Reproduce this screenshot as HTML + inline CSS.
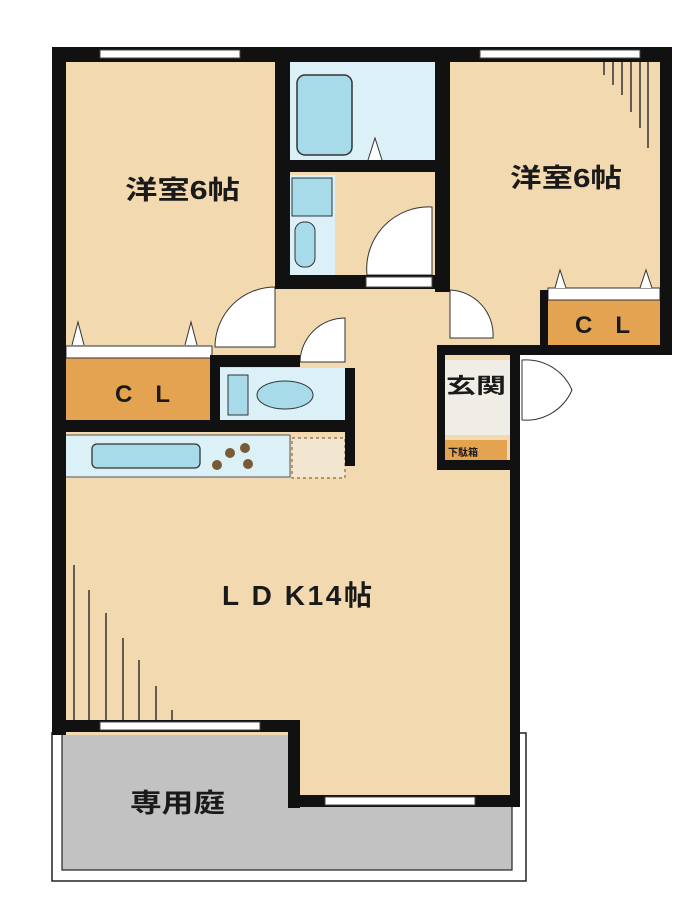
<!DOCTYPE html>
<html><head><meta charset="utf-8"><style>
html,body{margin:0;padding:0;background:#fff;}
svg{display:block}
text{font-family:"Liberation Sans","Noto Sans CJK JP",sans-serif;font-weight:bold;fill:#1a1a1a}
</style></head><body>
<svg width="700" height="913" viewBox="0 0 700 913" xmlns="http://www.w3.org/2000/svg">
<rect width="700" height="913" fill="#fff"/>
<!-- garden -->
<rect x="52" y="733" width="474" height="148" fill="none" stroke="#222" stroke-width="1.5"/>
<rect x="62" y="733" width="450" height="137" fill="#c2c2c2" stroke="#222" stroke-width="1.2"/>
<!-- floors -->
<rect x="60" y="55" width="460" height="680" fill="#f2d9b0"/>
<rect x="290" y="720" width="225" height="80" fill="#f2d9b0"/>
<rect x="440" y="55" width="225" height="295" fill="#f2d9b0"/>
<!-- bath -->
<rect x="290" y="62" width="145" height="100" fill="#dcf0f8"/>
<rect x="297" y="75" width="55" height="80" rx="8" fill="#a7dbe9" stroke="#333" stroke-width="1.5"/>
<path d="M368 160 L375 138 L382 160" fill="#fff" stroke="#333" stroke-width="1"/>
<!-- washroom -->
<rect x="290" y="175" width="45" height="100" fill="#dcf0f8"/>
<rect x="292" y="178" width="40" height="38" fill="#a7dbe9" stroke="#333" stroke-width="1"/>
<rect x="295" y="222" width="20" height="45" rx="9" fill="#a7dbe9" stroke="#333" stroke-width="1"/>
<path d="M432 207 A62 62 0 0 0 367 275 L432 275 Z" fill="#fff" stroke="#333" stroke-width="1"/>
<!-- closets -->
<rect x="66" y="358" width="146" height="62" fill="#e3a350"/>
<rect x="66" y="346" width="146" height="12" fill="#fff" stroke="#333" stroke-width="1"/>
<path d="M72 345 L78 322 L84 345 M185 345 L191 322 L197 345" fill="#fff" stroke="#333" stroke-width="1"/>
<rect x="548" y="300" width="112" height="46" fill="#e3a350"/>
<rect x="548" y="288" width="112" height="12" fill="#fff" stroke="#333" stroke-width="1"/>
<path d="M555 288 L560 270 L566 288 M640 288 L646 270 L652 288" fill="#fff" stroke="#333" stroke-width="1"/>
<!-- toilet -->
<rect x="220" y="368" width="125" height="52" fill="#dcf0f8"/>
<rect x="228" y="375" width="20" height="40" fill="#a7dbe9" stroke="#333" stroke-width="1"/>
<ellipse cx="285" cy="395" rx="28" ry="14" fill="#a7dbe9" stroke="#333" stroke-width="1"/>
<!-- kitchen -->
<rect x="64" y="435" width="226" height="42" fill="#dcf0f8" stroke="#555" stroke-width="1"/>
<rect x="92" y="444" width="108" height="24" rx="5" fill="#a7dbe9" stroke="#333" stroke-width="1.3"/>
<circle cx="230" cy="453" r="5" fill="#7a5a35"/><circle cx="245" cy="448" r="5" fill="#7a5a35"/>
<circle cx="217" cy="465" r="5" fill="#7a5a35"/><circle cx="248" cy="464" r="5" fill="#7a5a35"/>
<rect x="292" y="438" width="53" height="40" fill="#f3e6d0" stroke="#8a6a40" stroke-width="1.2" stroke-dasharray="3 3"/>
<!-- genkan -->
<rect x="445" y="360" width="65" height="75" fill="#f0ece6"/>
<rect x="445" y="440" width="62" height="20" fill="#e3a350"/>
<!-- door arcs -->
<path d="M275 287 A60 60 0 0 0 215 347 L275 347 Z" fill="#fff" stroke="#333" stroke-width="1"/>
<path d="M345 318 A45 45 0 0 0 300 362 L345 362 Z" fill="#fff" stroke="#333" stroke-width="1"/>
<path d="M450 290 A45 45 0 0 1 493 338 L450 338 Z" fill="#fff" stroke="#333" stroke-width="1"/>
<path d="M522 360 A50 50 0 0 1 572 390 A50 50 0 0 1 522 420 Z" fill="#fff" stroke="#333" stroke-width="1"/>
<!-- walls -->
<g fill="#111">
<rect x="52" y="47" width="620" height="15"/>
<rect x="52" y="47" width="14" height="688"/>
<rect x="660" y="47" width="12" height="308"/>
<rect x="275" y="47" width="15" height="240"/>
<rect x="435" y="47" width="15" height="245"/>
<rect x="437" y="345" width="235" height="10"/>
<rect x="540" y="290" width="8" height="60"/>
<rect x="290" y="160" width="145" height="12"/>
<rect x="275" y="275" width="175" height="14"/>
<rect x="52" y="420" width="300" height="12"/>
<rect x="210" y="355" width="10" height="77"/>
<rect x="210" y="355" width="90" height="12"/>
<rect x="345" y="368" width="10" height="98"/>
<rect x="437" y="355" width="8" height="115"/>
<rect x="437" y="460" width="83" height="10"/>
<rect x="510" y="355" width="10" height="450"/>
<rect x="52" y="720" width="248" height="12"/>
<rect x="288" y="720" width="12" height="88"/>
<rect x="288" y="795" width="232" height="12"/>
</g>
<rect x="366" y="277" width="66" height="10" fill="#fff" stroke="#444" stroke-width="1"/>
<!-- windows -->
<g fill="#fff" stroke="#444" stroke-width="1">
<rect x="100" y="50" width="140" height="8"/>
<rect x="480" y="50" width="160" height="8"/>
<rect x="100" y="722" width="160" height="8"/>
<rect x="325" y="797" width="150" height="8"/>
</g>
<g stroke="#333" stroke-width="1.5">
<line x1="74" y1="565" x2="74" y2="720"/><line x1="89" y1="590" x2="89" y2="720"/>
<line x1="106" y1="613" x2="106" y2="720"/><line x1="123" y1="638" x2="123" y2="720"/>
<line x1="139" y1="660" x2="139" y2="720"/><line x1="156" y1="686" x2="156" y2="720"/>
<line x1="172" y1="710" x2="172" y2="720"/>
<line x1="648" y1="62" x2="648" y2="148"/><line x1="640" y1="62" x2="640" y2="128"/>
<line x1="631" y1="62" x2="631" y2="112"/><line x1="622" y1="62" x2="622" y2="95"/>
<line x1="613" y1="62" x2="613" y2="85"/><line x1="604" y1="62" x2="604" y2="75"/>
</g>
<!-- labels -->
<text x="125" y="199" font-size="26" textLength="115" lengthAdjust="spacingAndGlyphs">洋室6帖</text>
<text x="510" y="187" font-size="26" textLength="112" lengthAdjust="spacingAndGlyphs">洋室6帖</text>
<text x="575" y="333" font-size="24" textLength="55" lengthAdjust="spacing">C L</text>
<text x="115" y="402" font-size="24" textLength="55" lengthAdjust="spacing">C L</text>
<text x="446" y="393" font-size="21" textLength="60" lengthAdjust="spacingAndGlyphs">玄関</text>
<text x="448" y="456" font-size="10">下駄箱</text>
<text x="222" y="605" font-size="28" textLength="150" lengthAdjust="spacing">L D K14帖</text>
<text x="130" y="812" font-size="26" textLength="95" lengthAdjust="spacingAndGlyphs">専用庭</text>
</svg>
</body></html>
